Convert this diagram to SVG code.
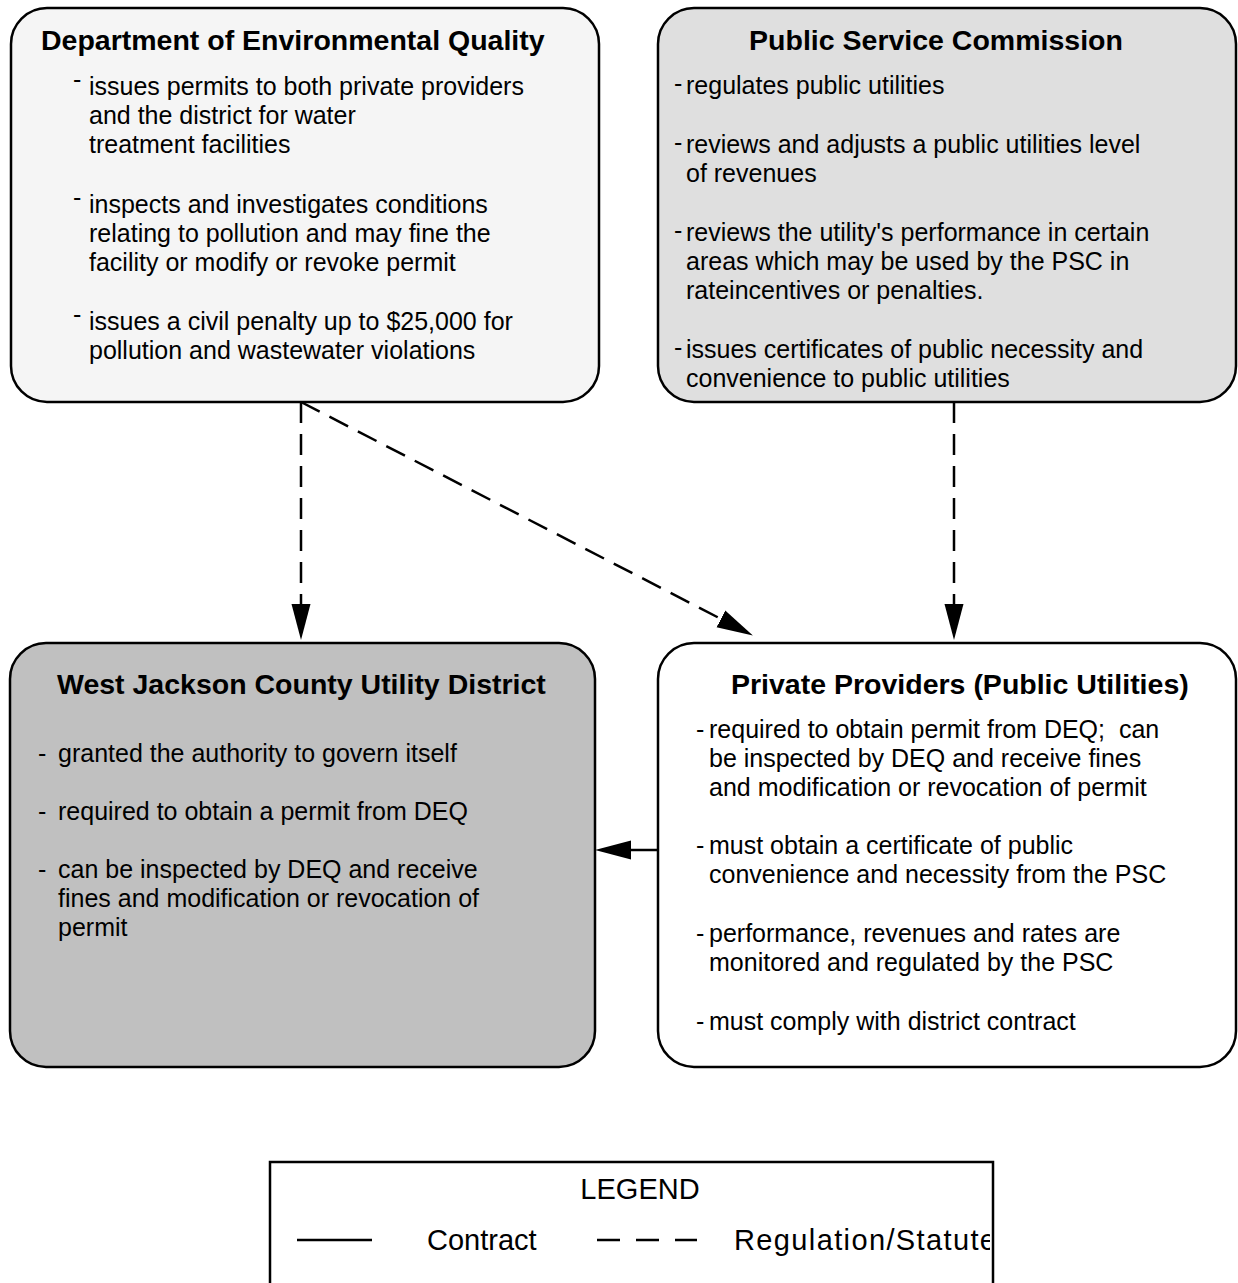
<svg xmlns="http://www.w3.org/2000/svg" width="1238" height="1283" viewBox="0 0 1238 1283">
<style>
.box{stroke:#000;stroke-width:2.5}
.title{font-family:"Liberation Sans",Arial,sans-serif;font-weight:bold;font-size:28.5px;fill:#000}
.body{font-family:"Liberation Sans",Arial,sans-serif;font-size:25px;fill:#000}
.leg{font-family:"Liberation Sans",Arial,sans-serif;font-size:29px;fill:#000}
.dash{stroke:#000;stroke-width:2.5;fill:none;stroke-dasharray:21 11}
.solid{stroke:#000;stroke-width:2.5;fill:none}
</style>
<defs>
<marker id="arr" markerUnits="userSpaceOnUse" markerWidth="37" markerHeight="20" refX="0" refY="9.5" orient="auto" viewBox="0 0 37 19">
<path d="M0,0 L36,9.5 L0,19 z" fill="#000"/>
</marker>
<clipPath id="legclip"><rect x="270" y="1162" width="720" height="130"/></clipPath>
</defs>
<rect width="1238" height="1283" fill="#fff"/>

<g id="deq">
<rect class="box" x="11" y="8" width="588" height="394" rx="36" ry="36" fill="#f5f5f5"/>
<text class="title" x="41" y="50">Department of Environmental Quality</text>
<text class="body" x="73" y="88">-</text>
<text class="body" x="89" y="95">issues permits to both private providers<tspan x="89" y="124">and the district for water</tspan><tspan x="89" y="153">treatment facilities</tspan></text>
<text class="body" x="73" y="206">-</text>
<text class="body" x="89" y="213">inspects and investigates conditions<tspan x="89" y="242">relating to pollution and may fine the</tspan><tspan x="89" y="271">facility or modify or revoke permit</tspan></text>
<text class="body" x="73" y="323">-</text>
<text class="body" x="89" y="330">issues a civil penalty up to $25,000 for<tspan x="89" y="359">pollution and wastewater violations</tspan></text>
</g>

<g id="psc">
<rect class="box" x="658" y="8" width="578" height="394" rx="36" ry="36" fill="#dfdfdf"/>
<text class="title" x="936" y="50" text-anchor="middle">Public Service Commission</text>
<text class="body" x="674" y="92">-</text>
<text class="body" x="686" y="94">regulates public utilities</text>
<text class="body" x="674" y="151">-</text>
<text class="body" x="686" y="153">reviews and adjusts a public utilities level<tspan x="686" y="182">of revenues</tspan></text>
<text class="body" x="674" y="239">-</text>
<text class="body" x="686" y="241">reviews the utility's performance in certain<tspan x="686" y="270">areas which may be used by the PSC in</tspan><tspan x="686" y="299">rateincentives or penalties.</tspan></text>
<text class="body" x="674" y="356">-</text>
<text class="body" x="686" y="358">issues certificates of public necessity and<tspan x="686" y="387">convenience to public utilities</tspan></text>
</g>

<g id="wjcud">
<rect class="box" x="10" y="643" width="585" height="424" rx="36" ry="36" fill="#c0c0c0"/>
<text class="title" x="57" y="694">West Jackson County Utility District</text>
<text class="body" x="38" y="762">-</text>
<text class="body" x="58" y="762">granted the authority to govern itself</text>
<text class="body" x="38" y="820">-</text>
<text class="body" x="58" y="820">required to obtain a permit from DEQ</text>
<text class="body" x="38" y="878">-</text>
<text class="body" x="58" y="878">can be inspected by DEQ and receive<tspan x="58" y="907">fines and modification or revocation of</tspan><tspan x="58" y="936">permit</tspan></text>
</g>

<g id="pp">
<rect class="box" x="658" y="643" width="578" height="424" rx="36" ry="36" fill="#ffffff"/>
<text class="title" x="731" y="694">Private Providers (Public Utilities)</text>
<text class="body" x="696" y="738">-</text>
<text class="body" x="709" y="738">required to obtain permit from DEQ;&#160; can<tspan x="709" y="767">be inspected by DEQ and receive fines</tspan><tspan x="709" y="796">and modification or revocation of permit</tspan></text>
<text class="body" x="696" y="854">-</text>
<text class="body" x="709" y="854">must obtain a certificate of public<tspan x="709" y="883">convenience and necessity from the PSC</tspan></text>
<text class="body" x="696" y="942">-</text>
<text class="body" x="709" y="942">performance, revenues and rates are<tspan x="709" y="971">monitored and regulated by the PSC</tspan></text>
<text class="body" x="696" y="1030">-</text>
<text class="body" x="709" y="1030">must comply with district contract</text>
</g>

<g id="connectors">
<path class="dash" d="M301,402 L301,604" marker-end="url(#arr)"/>
<path class="dash" d="M301,402 L720.9,618.9" marker-end="url(#arr)"/>
<path class="dash" d="M954,402 L954,604" marker-end="url(#arr)"/>
<path class="solid" d="M658,850 L631,850" marker-end="url(#arr)"/>
</g>

<g id="legend">
<rect x="270" y="1162" width="723" height="140" fill="#fff" stroke="#000" stroke-width="2.5"/>
<g clip-path="url(#legclip)">
<text class="leg" x="640" y="1199" text-anchor="middle">LEGEND</text>
<line class="solid" x1="297" y1="1240" x2="372" y2="1240"/>
<text class="leg" x="427" y="1250">Contract</text>
<line x1="597" y1="1240" x2="697" y2="1240" stroke="#000" stroke-width="2.5" stroke-dasharray="23 16"/>
<text class="leg" x="734" y="1250" textLength="262" lengthAdjust="spacing">Regulation/Statute</text>
</g>
</g>
</svg>
